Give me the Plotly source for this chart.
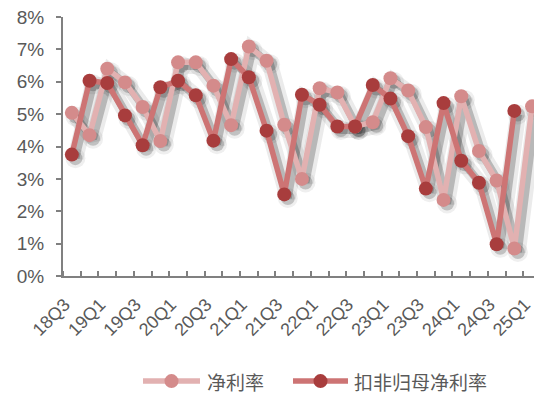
import plotly.graph_objects as go

categories = ["18Q3", "18Q4", "19Q1", "19Q2", "19Q3", "19Q4", "20Q1", "20Q2", "20Q3", "20Q4",
              "21Q1", "21Q2", "21Q3", "21Q4", "22Q1", "22Q2", "22Q3", "22Q4", "23Q1", "23Q2",
              "23Q3", "23Q4", "24Q1", "24Q2", "24Q3", "24Q4", "25Q1"]
net_margin = [5.04, 4.35, 6.40, 5.98, 5.22, 4.17, 6.60, 6.60, 5.88, 4.66,
              7.09, 6.65, 4.67, 3.00, 5.80, 5.67, 4.62, 4.75, 6.11, 5.73,
              4.60, 2.35, 5.55, 3.86, 2.95, 0.85, 5.24]
deducted_margin = [3.75, 6.03, 5.96, 4.96, 4.04, 5.83, 6.03, 5.58, 4.18, 6.70,
                   6.14, 4.49, 2.52, 5.60, 5.29, 4.62, 4.62, 5.90, 5.48, 4.32,
                   2.70, 5.34, 3.56, 2.88, 0.98, 5.10, None]
y_ticks = [0, 1, 2, 3, 4, 5, 6, 7, 8]
series_names = ["净利率", "扣非归母净利率"]

W, H = 534, 394
ML, MR, MT, MB = 63, 0, 16.5, 117.5
PW, PH = W - ML - MR, H - MT - MB

LIGHT_LINE, LIGHT_MARK = "#E2B1B1", "#D48B8B"
DARK_LINE, DARK_MARK = "#CD7474", "#A83D3D"
GRAY = "#595959"
AXIS = "#808080"

x = list(range(len(categories)))

fig = go.Figure()

# soft shadows (derived from the data, drawn beneath)
for vals in (net_margin, deducted_margin):
    sx = [i + 0.2 for i in x]
    sy = [v - 0.11 if v is not None else None for v in vals]
    fig.add_trace(go.Scatter(x=sx, y=sy, mode="lines+markers",
                             line=dict(color="rgba(30,30,30,0.09)", width=16),
                             marker=dict(size=20, color="rgba(30,30,30,0.07)"),
                             showlegend=False, hoverinfo="skip"))
    fig.add_trace(go.Scatter(x=sx, y=sy, mode="lines+markers",
                             line=dict(color="rgba(30,30,30,0.25)", width=8),
                             marker=dict(size=14, color="rgba(30,30,30,0.22)"),
                             showlegend=False, hoverinfo="skip"))

fig.add_trace(go.Scatter(x=x, y=net_margin, name=series_names[0], mode="lines+markers",
                         line=dict(color=LIGHT_LINE, width=5.5),
                         marker=dict(size=14, color=LIGHT_MARK),
                         showlegend=False))
fig.add_trace(go.Scatter(x=x, y=deducted_margin, name=series_names[1], mode="lines+markers",
                         line=dict(color=DARK_LINE, width=5.5),
                         marker=dict(size=14, color=DARK_MARK),
                         showlegend=False))

x_range = [-0.5, -0.5 + PW / 17.7]


def px2paper_x(px):
    return (px - ML) / PW


def py2paper_y(py):
    return (H - MB - py) / PH


# custom legend
legend_y = 382
items = [(143, 200, 205, LIGHT_LINE, LIGHT_MARK, series_names[0]),
         (293, 348, 352, DARK_LINE, DARK_MARK, series_names[1])]
shapes = []
annotations = []
for x0, x1, tx, lc, mc, name in items:
    shapes.append(dict(type="line", xref="paper", yref="paper",
                       x0=px2paper_x(x0), x1=px2paper_x(x1),
                       y0=py2paper_y(legend_y), y1=py2paper_y(legend_y),
                       line=dict(color=lc, width=5.5)))
    cx = (x0 + x1) / 2
    r = 7
    shapes.append(dict(type="circle", xref="paper", yref="paper",
                       x0=px2paper_x(cx - r), x1=px2paper_x(cx + r),
                       y0=py2paper_y(legend_y + r), y1=py2paper_y(legend_y - r),
                       fillcolor=mc, line=dict(width=0)))
    annotations.append(dict(text=name, xref="paper", yref="paper",
                            x=px2paper_x(tx), y=py2paper_y(legend_y),
                            xanchor="left", yanchor="middle", showarrow=False,
                            font=dict(family="Noto Sans CJK SC", size=19, color=GRAY)))

fig.update_layout(
    width=W, height=H,
    margin=dict(l=ML, r=MR, t=MT, b=MB, autoexpand=False),
    plot_bgcolor="white", paper_bgcolor="white",
    shapes=shapes, annotations=annotations,
    showlegend=False,
    font=dict(family="Liberation Sans, Arial", color=GRAY),
)
fig.update_xaxes(
    range=x_range, automargin=False,
    tickmode="array",
    tickvals=x[::2], ticktext=categories[::2],
    tickangle=-45,
    tickfont=dict(size=18, color=GRAY),
    ticks="",
    ticklabeloverflow="allow",
    ticklabelshift=-7,
    ticklabelstandoff=9,
    showline=True, linecolor=AXIS, linewidth=2,
    showgrid=False, zeroline=False,
    minor=dict(tickvals=[i - 0.5 for i in range(len(categories) + 1)],
               ticks="inside", ticklen=5, tickcolor=AXIS, tickwidth=1.5, showgrid=False),
)
fig.update_yaxes(
    range=[0, 8], automargin=False,
    tickmode="array", tickvals=y_ticks, ticktext=[f"{v}%" for v in y_ticks],
    tickfont=dict(size=19, color=GRAY),
    ticks="outside", ticklen=5, tickcolor=AXIS, tickwidth=1.5,
    ticklabelstandoff=8,
    showline=True, linecolor=AXIS, linewidth=2,
    showgrid=False, zeroline=False,
)

fig.write_html("out.html", config={"displayModeBar": False},
               post_script="document.body.style.margin='0';document.body.style.overflow='hidden';")
